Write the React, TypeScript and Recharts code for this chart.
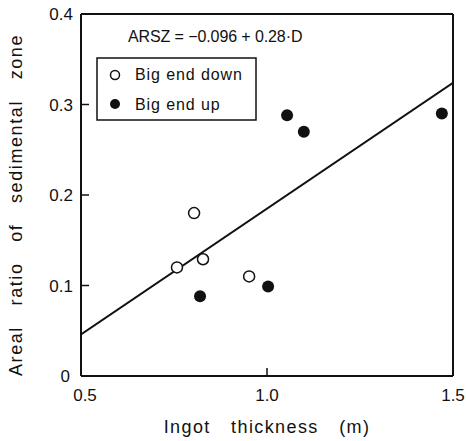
import {
  ComposedChart,
  Scatter,
  Line,
  XAxis,
  YAxis,
  ReferenceLine,
  Customized,
} from "recharts";

// Big end down (open circles)
const downThickness = [0.804, 0.758, 0.828, 0.952];
const downRatio = [0.18, 0.12, 0.129, 0.11];

// Big end up (filled circles)
const upThickness = [0.82, 1.003, 1.054, 1.099, 1.47];
const upRatio = [0.088, 0.099, 0.288, 0.27, 0.29];

// regression line ARSZ = -0.096 + 0.28 D, read at both plot edges
const fitThickness = [0.5, 1.5];
const fitRatio = [0.046, 0.324];

const xTicks = [0.5, 1.0, 1.5];
const xTickLabels = ["0.5", "1.0", "1.5"];
const yTicks = [0, 0.1, 0.2, 0.3, 0.4];
const yTickLabels = ["0", "0.1", "0.2", "0.3", "0.4"];

const downData = downThickness.map((x, i) => ({ x, y: downRatio[i] }));
const upData = upThickness.map((x, i) => ({ x, y: upRatio[i] }));
const fitData = fitThickness.map((x, i) => ({ x, y: fitRatio[i] }));

const FONT = "'Liberation Sans', Arial, sans-serif";
const INK = "#111";

function XTick(props: any) {
  const { x, y, payload, index } = props;
  const v = payload.value;
  const inner = v > 0.5 && v < 1.5;
  return (
    <g>
      {inner && <path d={`M${x},${y}V${y - 8}`} stroke={INK} strokeWidth={1.5} />}
      <text
        x={x + (v === 0.5 ? 4 : 0)}
        y={y + 25}
        textAnchor="middle"
        fontSize={17}
        fontFamily={FONT}
        fill={INK}
      >
        {xTickLabels[index] ?? String(v)}
      </text>
    </g>
  );
}

function YTick(props: any) {
  const { x, y, payload, index } = props;
  const v = payload.value;
  const inner = v > 0 && v < 0.4;
  return (
    <g>
      {inner && <path d={`M${x},${y}H${x + 8}`} stroke={INK} strokeWidth={1.5} />}
      <text
        x={x - (v === 0 ? 11 : 8)}
        y={y + 6}
        textAnchor="end"
        fontSize={17}
        fontFamily={FONT}
        fill={INK}
      >
        {yTickLabels[index]}
      </text>
    </g>
  );
}

function Legend() {
  return (
    <g fontFamily={FONT} fontSize={16} fill={INK}>
      <rect x={97} y={58} width={159} height={62} fill="#fff" stroke={INK} strokeWidth={1.5} />
      <circle cx={115} cy={75} r={4.5} fill="#fff" stroke={INK} strokeWidth={1.5} />
      <text x={135} y={80} style={{ letterSpacing: 0.9 }}>Big end down</text>
      <circle cx={115} cy={104} r={5} fill={INK} />
      <text x={135} y={110} style={{ letterSpacing: 0.9 }}>Big end up</text>
      <text x={128} y={42} fontSize={16} style={{ letterSpacing: -0.1 }}>
        ARSZ = −0.096 + 0.28·D
      </text>
    </g>
  );
}

export default function App() {
  return (
    <div style={{ position: "absolute", left: 0, top: 0, background: "#fff" }}>
      <ComposedChart
        width={466}
        height={441}
        margin={{ top: 14, right: 13, bottom: 0, left: 0 }}
      >
        <XAxis
          type="number"
          dataKey="x"
          domain={[0.5, 1.5]}
          ticks={xTicks}
          allowDataOverflow
          height={65}
          axisLine={{ stroke: INK, strokeWidth: 2 }}
          tickLine={false}
          tickSize={0}
          tickMargin={0}
          tick={<XTick />}
          label={{
            value: "Ingot thickness (m)",
            position: "insideBottom",
            offset: 8,
            fontSize: 18,
            fontFamily: FONT,
            fill: INK,
            style: { wordSpacing: 14, letterSpacing: 1.4 },
          }}
        />
        <YAxis
          type="number"
          dataKey="y"
          domain={[0, 0.4]}
          ticks={yTicks}
          allowDataOverflow
          width={81}
          axisLine={{ stroke: INK, strokeWidth: 2 }}
          tickLine={false}
          tickSize={0}
          tickMargin={0}
          tick={<YTick />}
          label={{
            value: "Areal ratio of sedimental zone",
            angle: -90,
            position: "insideLeft",
            offset: 16,
            dy: 10,
            fontSize: 18,
            fontFamily: FONT,
            fill: INK,
            style: { textAnchor: "middle", wordSpacing: 14, letterSpacing: 1.6 },
          }}
        />
        <ReferenceLine y={0.4} stroke={INK} strokeWidth={2} />
        <ReferenceLine x={1.5} stroke={INK} strokeWidth={2} />
        <Line
          data={fitData}
          dataKey="y"
          type="linear"
          stroke={INK}
          strokeWidth={2}
          dot={false}
          activeDot={false}
          isAnimationActive={false}
        />
        <Scatter
          data={downData}
          fill="#fff"
          stroke={INK}
          strokeWidth={1.5}
          shape={(p: any) => (
            <circle cx={p.cx} cy={p.cy} r={5.5} fill="#fff" stroke={INK} strokeWidth={1.5} />
          )}
          isAnimationActive={false}
        />
        <Scatter
          data={upData}
          fill={INK}
          shape={(p: any) => <circle cx={p.cx} cy={p.cy} r={6} fill={INK} />}
          isAnimationActive={false}
        />
        <Customized component={Legend} />
      </ComposedChart>
    </div>
  );
}
